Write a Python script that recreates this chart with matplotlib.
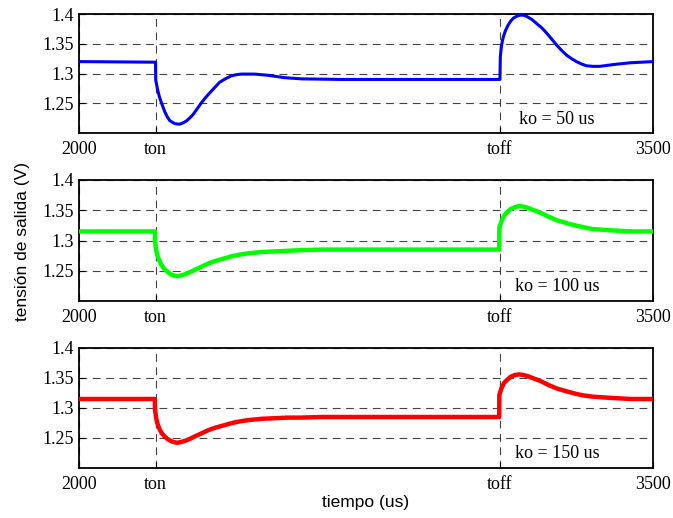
import matplotlib
matplotlib.use("Agg")
import matplotlib.pyplot as plt

# ---- data ----
x_ticks = [2000, 2200, 3100, 3500]
x_tick_labels = ["2000", "ton", "toff", "3500"]
y_ticks = [1.25, 1.3, 1.35, 1.4]
y_tick_labels = ["1.25", "1.3", "1.35", "1.4"]
panel_labels = ["ko = 50 us", "ko = 100 us", "ko = 150 us"]

t_blue = [2000, 2200, 2200.5, 2205, 2210, 2217, 2224, 2230, 2237, 2244, 2250, 2257, 2264, 2272, 2280,
          2289, 2298, 2308, 2319, 2330, 2341, 2354, 2367, 2382, 2398, 2411, 2424, 2441, 2459, 2494,
          2537, 2581, 2685, 2800, 2950, 3099.5, 3100, 3101, 3104, 3109, 3115, 3122, 3128, 3135,
          3143, 3152, 3161, 3170, 3183, 3196, 3209, 3222, 3235, 3248, 3261, 3274, 3287, 3300,
          3313, 3326, 3343, 3361, 3396, 3440, 3500]
v_blue = [1.320, 1.319, 1.289, 1.274, 1.261, 1.248, 1.236, 1.228, 1.221, 1.218, 1.216, 1.215, 1.215, 1.217, 1.220,
          1.225, 1.231, 1.240, 1.250, 1.259, 1.267, 1.276, 1.285, 1.291, 1.296, 1.298, 1.299, 1.299, 1.299, 1.297,
          1.293, 1.291, 1.290, 1.290, 1.290, 1.290, 1.290, 1.328, 1.347, 1.362, 1.373, 1.382, 1.388, 1.393,
          1.396, 1.398, 1.398, 1.396, 1.391, 1.384, 1.377, 1.368, 1.358, 1.348, 1.339, 1.331, 1.325, 1.320,
          1.316, 1.313, 1.312, 1.312, 1.315, 1.318, 1.320]

t_green = [2000, 2198, 2198.5, 2201, 2204, 2209, 2215, 2223, 2232, 2240, 2249, 2257, 2265, 2276, 2288,
           2304, 2321, 2338, 2355, 2378, 2400, 2423, 2445, 2478, 2512, 2545, 2579, 2635, 2691, 2900,
           3098, 3098.5, 3104, 3111, 3119, 3128, 3139, 3150, 3161, 3173, 3189, 3206, 3228, 3251, 3273,
           3296, 3318, 3341, 3363, 3386, 3414, 3442, 3500]
v_green = [1.315, 1.315, 1.299, 1.287, 1.277, 1.268, 1.260, 1.253, 1.248, 1.244, 1.242, 1.241, 1.242, 1.244, 1.247,
           1.252, 1.257, 1.262, 1.266, 1.270, 1.274, 1.277, 1.279, 1.281, 1.282, 1.283, 1.284, 1.285, 1.285, 1.285,
           1.285, 1.321, 1.332, 1.341, 1.347, 1.352, 1.355, 1.357, 1.356, 1.354, 1.350, 1.346, 1.339, 1.333, 1.329,
           1.325, 1.322, 1.319, 1.318, 1.317, 1.316, 1.315, 1.315]

t_red = [2000, 2198, 2198.5, 2201, 2204, 2209, 2215, 2223, 2232, 2240, 2249, 2257, 2265, 2276, 2288,
         2304, 2321, 2338, 2355, 2378, 2400, 2423, 2445, 2478, 2512, 2545, 2579, 2635, 2691, 2900,
         3098, 3098.5, 3104, 3111, 3119, 3128, 3139, 3150, 3161, 3173, 3189, 3206, 3228, 3251, 3273,
         3296, 3318, 3341, 3363, 3386, 3414, 3442, 3500]
v_red = [1.315, 1.315, 1.298, 1.286, 1.276, 1.267, 1.259, 1.253, 1.248, 1.245, 1.243, 1.242, 1.243, 1.245, 1.248,
         1.253, 1.258, 1.263, 1.267, 1.271, 1.275, 1.278, 1.280, 1.282, 1.283, 1.284, 1.284, 1.285, 1.285, 1.285,
         1.285, 1.322, 1.333, 1.342, 1.347, 1.352, 1.355, 1.356, 1.355, 1.353, 1.349, 1.345, 1.338, 1.332, 1.328,
         1.324, 1.321, 1.319, 1.318, 1.317, 1.316, 1.315, 1.315]

series = [(t_blue, v_blue, "#0000ff", 2.2), (t_green, v_green, "#00ff00", 3.2), (t_red, v_red, "#ff0000", 3.2)]

# ---- figure ----
fig = plt.figure(figsize=(6.73, 5.18), dpi=100)
W, H = 673, 518
boxes = [(14, 133), (180, 301), (348, 468)]
left, right = 79, 653
serif = ["Liberation Serif", "DejaVu Serif"]
sans = ["Liberation Sans", "DejaVu Sans"]

for (top, bot), (t, v, col, lw), lab in zip(boxes, series, panel_labels):
    ax = fig.add_axes([left / W, 1 - bot / H, (right - left) / W, (bot - top) / H])
    ax.plot(t, v, color=col, lw=lw, solid_joinstyle="round", zorder=3)
    ax.set_xlim(2000, 3500)
    ax.set_ylim(1.2, 1.4)
    ax.set_xticks(x_ticks)
    ax.set_xticklabels(x_tick_labels, fontfamily=serif, fontsize=13)
    ax.set_yticks(y_ticks)
    ax.set_yticklabels(y_tick_labels, fontfamily=serif, fontsize=13)
    ax.tick_params(direction="in", length=4, width=0.8, pad=4)
    ax.tick_params(axis="x", pad=6)
    ax.grid(True, ls=(0, (7, 5)), color="#222222", lw=0.8, alpha=0.85)
    for s in ax.spines.values():
        s.set_linewidth(1.3)
    ax.text(3249, 1.2235, lab, fontfamily=serif, fontsize=13, ha="center", va="center")

fig.text(23 / W, 1 - 241 / H, "tensión de salida (V)", rotation=90, ha="center", va="center",
         fontfamily=sans, fontsize=12.5)
fig.text(366 / W, 1 - 503 / H, "tiempo (us)", ha="center", va="center", fontfamily=sans, fontsize=12.5)

fig.savefig("out.png", dpi=100)
